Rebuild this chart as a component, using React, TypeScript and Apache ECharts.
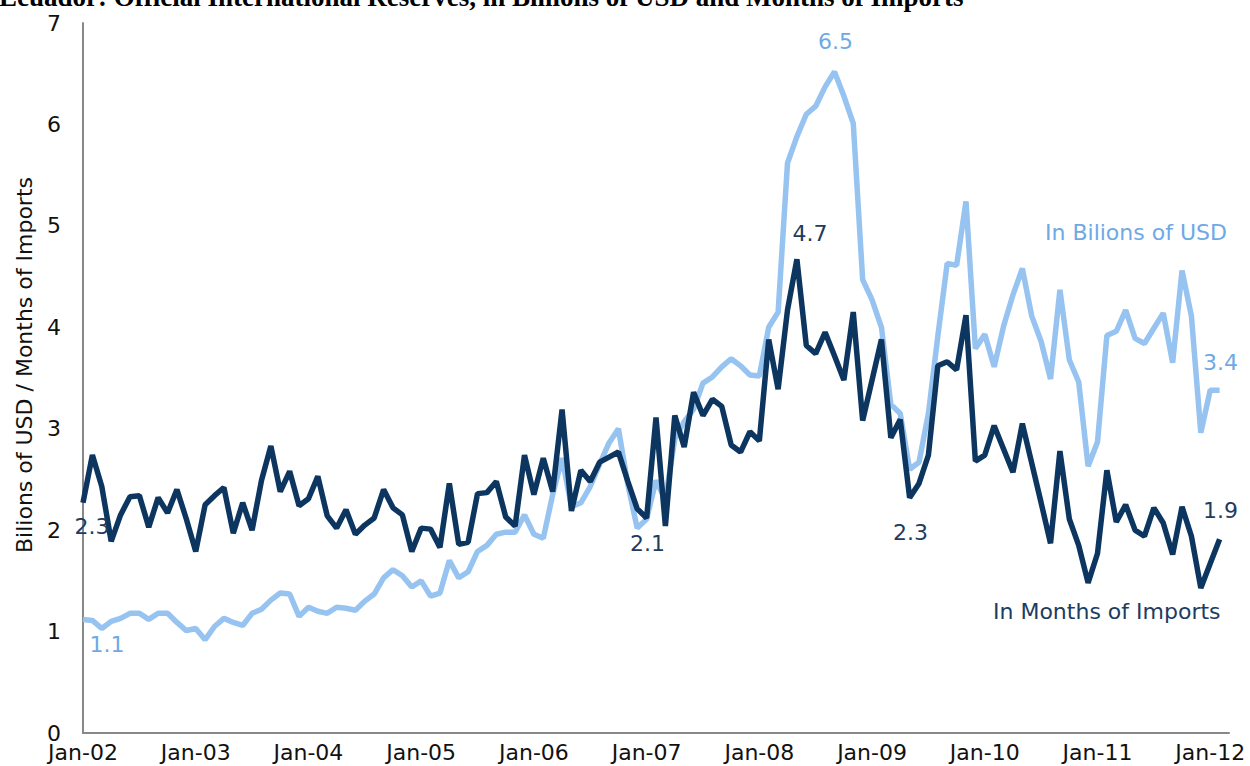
import React, { useEffect, useRef } from "react";
import * as echarts from "echarts";

// Monthly categories Jan-02 .. Mar-12 (last one only extends the axis)
const monthNames = ["Jan", "Feb", "Mar", "Apr", "May", "Jun", "Jul", "Aug", "Sep", "Oct", "Nov", "Dec"];
const categories: string[] = [];
for (let y = 2; y <= 12; y++) {
  for (let m = 0; m < 12; m++) {
    if (y === 12 && m > 2) break;
    categories.push(monthNames[m] + "-" + String(y).padStart(2, "0"));
  }
}

// In Billions of USD (light)
const usdBillions: number[] = [
  1.12, 1.11, 1.03, 1.10, 1.13, 1.18, 1.18, 1.12, 1.18, 1.18, 1.09, 1.01,
  1.03, 0.92, 1.05, 1.13, 1.09, 1.06, 1.18, 1.22, 1.31, 1.38, 1.37, 1.15,
  1.24, 1.20, 1.18, 1.24, 1.23, 1.21, 1.30, 1.37, 1.53, 1.61, 1.55, 1.44,
  1.50, 1.35, 1.38, 1.70, 1.53, 1.59, 1.79, 1.85, 1.96, 1.98, 1.98, 2.15,
  1.96, 1.92, 2.35, 2.71, 2.23, 2.27, 2.43, 2.65, 2.86, 3.00, 2.45, 2.02,
  2.11, 2.49, 2.30, 2.90, 3.07, 3.19, 3.45, 3.51, 3.61, 3.69, 3.62, 3.53,
  3.52, 4.00, 4.15, 5.62, 5.88, 6.10, 6.18, 6.37, 6.52, 6.28, 6.01, 4.47,
  4.27, 4.00, 3.24, 3.15, 2.60, 2.67, 3.15, 3.91, 4.63, 4.61, 5.24, 3.79,
  3.93, 3.61, 4.01, 4.32, 4.58, 4.11, 3.86, 3.49, 4.37, 3.68, 3.46, 2.63,
  2.87, 3.92, 3.96, 4.17, 3.89, 3.84, 3.99, 4.14, 3.65, 4.56, 4.11, 2.96,
  3.38, 3.38,
];

// In Months of Imports (dark)
const monthsImports: number[] = [
  2.27, 2.74, 2.43, 1.89, 2.15, 2.33, 2.34, 2.03, 2.32, 2.17, 2.40, 2.11,
  1.79, 2.25, 2.34, 2.42, 1.97, 2.27, 2.00, 2.49, 2.83, 2.38, 2.58, 2.24,
  2.31, 2.53, 2.14, 2.02, 2.20, 1.96, 2.05, 2.12, 2.40, 2.22, 2.15, 1.79,
  2.02, 2.01, 1.83, 2.46, 1.86, 1.88, 2.36, 2.37, 2.48, 2.13, 2.04, 2.74,
  2.35, 2.71, 2.38, 3.19, 2.19, 2.59, 2.48, 2.67, 2.72, 2.77, 2.48, 2.21,
  2.12, 3.11, 2.04, 3.13, 2.82, 3.36, 3.13, 3.29, 3.22, 2.84, 2.77, 2.97,
  2.88, 3.88, 3.39, 4.17, 4.67, 3.82, 3.74, 3.95, 3.72, 3.48, 4.15, 3.08,
  3.48, 3.88, 2.91, 3.09, 2.32, 2.46, 2.74, 3.62, 3.66, 3.58, 4.12, 2.68,
  2.74, 3.03, 2.80, 2.57, 3.05, 2.66, 2.27, 1.87, 2.78, 2.11, 1.85, 1.48,
  1.77, 2.59, 2.08, 2.25, 2.00, 1.94, 2.22, 2.07, 1.76, 2.23, 1.94, 1.43,
  1.67, 1.91,
];

const yTicks = [0, 1, 2, 3, 4, 5, 6, 7];

const LIGHT = "#97c3f0";
const DARK = "#0c3660";
const LIGHT_TEXT = "#6ea9e6";
const DARK_TEXT = "#1d3c60";
const FONT = "'DejaVu Sans', Verdana, sans-serif";
const FS = 22;

type LabelCfg = { position: string; offset: number[] };
const lightLabels: Record<number, LabelCfg> = {
  0: { position: "bottom", offset: [24, 9] },
  80: { position: "top", offset: [1, -14] },
  121: { position: "top", offset: [1, -12] },
};
const darkLabels: Record<number, LabelCfg> = {
  0: { position: "bottom", offset: [9, 8] },
  60: { position: "bottom", offset: [1, 10] },
  76: { position: "top", offset: [13, -10] },
  88: { position: "bottom", offset: [1, 19] },
  121: { position: "top", offset: [1, -13] },
};

function buildData(values: number[], labels: Record<number, LabelCfg>, color: string) {
  return values.map((v, i) => {
    const cfg = labels[i];
    if (!cfg) return v;
    return {
      value: v,
      label: {
        show: true,
        position: cfg.position,
        offset: cfg.offset,
        color,
        fontSize: FS,
        fontFamily: FONT,
        formatter: (p: any) => Number(p.value).toFixed(1),
      },
    };
  });
}

export default function App() {
  const ref = useRef<HTMLDivElement>(null);
  useEffect(() => {
    if (!ref.current) return;
    const chart = echarts.init(ref.current, null, { renderer: "svg" });
    const option: any = {
      animation: false,
      backgroundColor: "#ffffff",
      grid: { left: 83, width: 1146, top: 23, bottom: 33 },
      xAxis: {
        type: "category",
        data: categories,
        boundaryGap: false,
        axisLine: { show: true, lineStyle: { color: "#888888", width: 2 } },
        axisTick: { show: false },
        splitLine: { show: false },
        axisLabel: {
          interval: 11,
          margin: 8,
          color: "#111111",
          fontSize: FS,
          fontFamily: FONT,
        },
      },
      yAxis: {
        type: "value",
        min: yTicks[0],
        max: yTicks[yTicks.length - 1],
        interval: 1,
        axisLine: { show: true, lineStyle: { color: "#888888", width: 2 } },
        axisTick: { show: false },
        splitLine: { show: false },
        axisLabel: {
          margin: 22,
          color: "#111111",
          fontSize: FS,
          fontFamily: FONT,
        },
      },
      series: [
        {
          name: "In Bilions of USD",
          type: "line",
          data: buildData(usdBillions, lightLabels, LIGHT_TEXT),
          symbol: "circle",
          symbolSize: 0,
          showSymbol: true,
          lineStyle: { color: LIGHT, width: 5.5 },
          itemStyle: { color: LIGHT },
          silent: true,
          z: 2,
        },
        {
          name: "In Months of Imports",
          type: "line",
          data: buildData(monthsImports, darkLabels, DARK_TEXT),
          symbol: "circle",
          symbolSize: 0,
          showSymbol: true,
          lineStyle: { color: DARK, width: 5.5 },
          itemStyle: { color: DARK },
          silent: true,
          z: 3,
        },
      ],
      graphic: [
        {
          type: "text",
          left: -1,
          top: -17,
          style: {
            text: "Ecuador: Official International Reserves, in Billions of USD and Months of Imports",
            fill: "#000000",
            font: "bold 27px 'Liberation Serif', 'Times New Roman', serif",
          },
        },
        {
          type: "text",
          x: 24,
          y: 365,
          rotation: Math.PI / 2,
          style: {
            text: "Bilions of USD / Months of Imports",
            fill: "#111111",
            font: FS + "px " + FONT,
            align: "center",
            verticalAlign: "middle",
          },
        },
        {
          type: "text",
          x: 1045,
          y: 232,
          style: {
            text: "In Bilions of USD",
            fill: LIGHT_TEXT,
            font: FS + "px " + FONT,
            align: "left",
            verticalAlign: "middle",
          },
        },
        {
          type: "text",
          x: 993,
          y: 611,
          style: {
            text: "In Months of Imports",
            fill: DARK_TEXT,
            font: FS + "px " + FONT,
            align: "left",
            verticalAlign: "middle",
          },
        },
      ],
    };
    chart.setOption(option);
    return () => chart.dispose();
  }, []);
  return (
    <div
      ref={ref}
      style={{ position: "fixed", left: 0, top: 0, width: 1250, height: 766, background: "#fff" }}
    />
  );
}
